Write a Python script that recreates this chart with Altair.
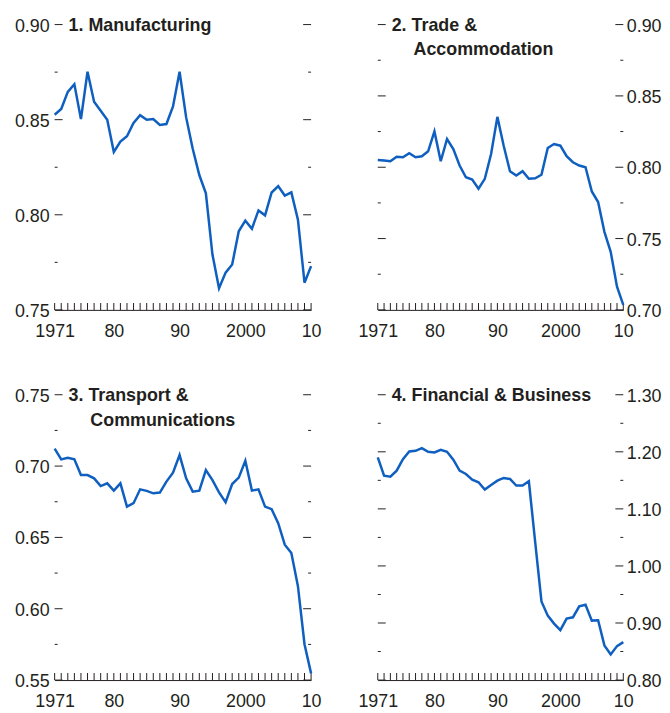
import altair as alt
import pandas as pd

# ---------------- data ----------------
years = list(range(1971, 2011))

manufacturing = [0.8526, 0.8556, 0.8646, 0.8686, 0.8503, 0.8752, 0.8594, 0.8547, 0.8500, 0.8330,
                 0.8385, 0.8413, 0.8483, 0.8524, 0.8500, 0.8503, 0.8472, 0.8477, 0.8570, 0.8752,
                 0.8512, 0.8347, 0.8209, 0.8113, 0.7791, 0.7614, 0.7696, 0.7739, 0.7913, 0.7969,
                 0.7927, 0.8023, 0.7997, 0.8117, 0.8151, 0.8101, 0.8118, 0.7974, 0.7643, 0.7730]

trade = [0.8051, 0.8047, 0.8042, 0.8074, 0.8070, 0.8098, 0.8070, 0.8077, 0.8112, 0.8251,
         0.8042, 0.8198, 0.8128, 0.8012, 0.7930, 0.7914, 0.7849, 0.7919, 0.8093, 0.8353,
         0.8151, 0.7972, 0.7942, 0.7972, 0.7919, 0.7923, 0.7947, 0.8135, 0.8163, 0.8151,
         0.8077, 0.8035, 0.8012, 0.8000, 0.7830, 0.7756, 0.7547, 0.7407, 0.7163, 0.7035]

transport = [0.7123, 0.7047, 0.7058, 0.7047, 0.6937, 0.6937, 0.6914, 0.6860, 0.6879, 0.6828,
             0.6879, 0.6716, 0.6740, 0.6837, 0.6826, 0.6809, 0.6814, 0.6891, 0.6953, 0.7077,
             0.6914, 0.6821, 0.6828, 0.6972, 0.6902, 0.6816, 0.6747, 0.6874, 0.6919, 0.7037,
             0.6828, 0.6837, 0.6716, 0.6698, 0.6600, 0.6449, 0.6391, 0.6158, 0.5751, 0.5547]

financial = [1.1901, 1.1582, 1.1565, 1.1669, 1.1872, 1.2006, 1.2017, 1.2064, 1.2000, 1.1988,
             1.2035, 1.2000, 1.1861, 1.1669, 1.1611, 1.1513, 1.1466, 1.1339, 1.1420, 1.1495,
             1.1542, 1.1524, 1.1408, 1.1408, 1.1484, 1.0422, 0.9378, 0.9129, 0.8990, 0.8874,
             0.9077, 0.9100, 0.9291, 0.9320, 0.9042, 0.9048, 0.8607, 0.8450, 0.8595, 0.8665]

x_tick_values = [1971, 1980, 1990, 2000, 2010]
x_tick_labels = ["1971", "80", "90", "2000", "10"]

titles = [
    ["1. Manufacturing"],
    ["2. Trade &", "Accommodation"],
    ["3. Transport &", "Communications"],
    ["4. Financial & Business"],
]

y_domains = [[0.75, 0.90], [0.70, 0.90], [0.55, 0.75], [0.80, 1.30]]
y_major = [
    [0.75, 0.80, 0.85, 0.90],
    [0.70, 0.75, 0.80, 0.85, 0.90],
    [0.55, 0.60, 0.65, 0.70, 0.75],
    [0.80, 0.90, 1.00, 1.10, 1.20, 1.30],
]
y_minor = [
    [0.775, 0.825, 0.875],
    [0.725, 0.775, 0.825, 0.875],
    [0.575, 0.625, 0.675, 0.725],
    [0.85, 0.95, 1.05, 1.15, 1.25],
]
series = [manufacturing, trade, transport, financial]
sides = ["left", "right", "left", "right"]

# ---------------- style ----------------
FONT = "Liberation Sans"
TEXT = "#231f20"
LINE = "#0f5fc0"
H = 287.5
WIDTHS = {"left": 258.4, "right": 247.4}

label_expr = " : ".join(
    f"datum.value == {v} ? '{l}'" for v, l in zip(x_tick_values, x_tick_labels)
) + " : ''"


def panel(values, domain, major, minor, lines, side):
    W = WIDTHS[side]
    df = pd.DataFrame({"year": years, "value": values})
    xscale = alt.Scale(domain=[1971, 2010], nice=False, zero=False)
    yscale = alt.Scale(domain=domain, nice=False, zero=False)
    xaxis = alt.Axis(values=x_tick_values, labelExpr=label_expr, title=None, grid=False,
                     ticks=False, tickSize=0, domain=True, domainColor=TEXT, domainWidth=1,
                     labelPadding=12.5, labelFlush=False, labelOverlap=False,
                     labelFont=FONT, labelFontSize=18, labelColor=TEXT)
    yaxis = alt.Axis(orient=side, values=major, format=".2f", title=None, grid=False,
                     ticks=False, tickSize=0, domain=False,
                     labelPadding=5.5 if side == "left" else 3, labelOffset=1.5,
                     labelFlush=False, labelOverlap=False,
                     labelFont=FONT, labelFontSize=18, labelColor=TEXT)

    line = alt.Chart(df).mark_line(color=LINE, strokeWidth=2.5).encode(
        x=alt.X("year:Q", scale=xscale, axis=xaxis),
        y=alt.Y("value:Q", scale=yscale, axis=yaxis),
    )
    year_ticks = alt.Chart(pd.DataFrame({"year": years})).mark_tick(
        color=TEXT, thickness=1, size=7, opacity=1, orient="vertical").encode(
        x=alt.X("year:Q", scale=xscale, axis=xaxis),
        y=alt.value(H - 3.5),
    )
    layers = [year_ticks]
    for vals, ln in ((major, 8), (minor, 3)):
        tdf = pd.DataFrame({"value": vals})
        for xc in (ln / 2, W - ln / 2):
            layers.append(
                alt.Chart(tdf).mark_tick(color=TEXT, thickness=1, size=ln, opacity=1,
                                         orient="horizontal").encode(
                    y=alt.Y("value:Q", scale=yscale, axis=yaxis),
                    x=alt.value(xc),
                )
            )
    layers.append(line)
    for i, t in enumerate(lines):
        layers.append(
            alt.Chart(pd.DataFrame({"t": [t]})).mark_text(
                align="left", baseline="middle", font=FONT, fontSize=18,
                fontWeight="bold", color=TEXT, dy=1.6,
            ).encode(
                x=alt.value(14 if i == 0 else 36),
                y=alt.value(i * 24.4),
                text="t:N",
            )
        )
    return alt.layer(*layers).properties(width=W, height=H)


panels = [panel(series[i], y_domains[i], y_major[i], y_minor[i], titles[i], sides[i])
          for i in range(4)]

chart = alt.concat(
    *panels, columns=2, spacing={"row": 85, "column": 66.6}, bounds="flush"
).properties(
    padding={"left": 5, "top": 6, "right": 0, "bottom": 0}
).configure(background="white").configure_view(stroke="transparent")

chart.save("out.html", embed_options={"renderer": "svg", "actions": False})
